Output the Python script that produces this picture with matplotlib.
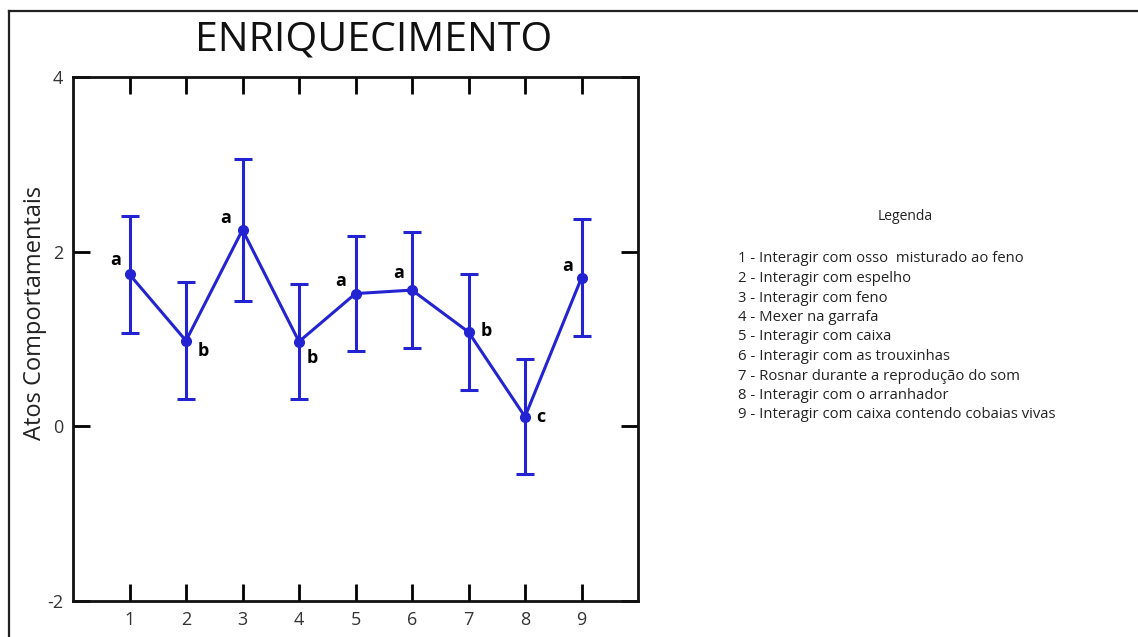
import matplotlib
matplotlib.use("Agg")
import matplotlib.pyplot as plt
from matplotlib.lines import Line2D

# Behaviour categories (x positions) and mean acts with error amplitude
categories = [1, 2, 3, 4, 5, 6, 7, 8, 9]
means = [1.74, 0.98, 2.25, 0.97, 1.52, 1.56, 1.08, 0.11, 1.70]
errors = [0.67, 0.67, 0.81, 0.66, 0.66, 0.66, 0.66, 0.66, 0.67]
letters = ["a", "b", "a", "b", "a", "a", "b", "c", "a"]
letter_offsets = [(-14, 14), (17, -10), (-17, 12), (13, -16), (-15, 13),
                  (-13, 17), (18, 1), (16, 0), (-14, 12)]
y_ticks = [-2, 0, 2, 4]
x_ticks = [1, 2, 3, 4, 5, 6, 7, 8, 9]

legend_title = "Legenda"
legend_lines = [
    "1 - Interagir com osso  misturado ao feno",
    "2 - Interagir com espelho",
    "3 - Interagir com feno",
    "4 - Mexer na garrafa",
    "5 - Interagir com caixa",
    "6 - Interagir com as trouxinhas",
    "7 - Rosnar durante a reprodução do som",
    "8 - Interagir com o arranhador",
    "9 - Interagir com caixa contendo cobaias vivas",
]

plt.rcParams["font.family"] = ["Open Sans", "DejaVu Sans"]
plt.rcParams["axes.unicode_minus"] = False

W, H = 1138, 637
fig = plt.figure(figsize=(W / 100, H / 100), dpi=100)
fig.patch.set_facecolor("white")

# Outer frame (left and top edges)
fig.add_artist(Line2D([9 / W, 9 / W], [0, 1 - 11 / H], transform=fig.transFigure,
                      color="#222222", lw=1.6))
fig.add_artist(Line2D([9 / W, 1], [1 - 11 / H, 1 - 11 / H], transform=fig.transFigure,
                      color="#222222", lw=1.6))

ax_l, ax_r, ax_t, ax_b = 73, 638, 77, 601
ax = fig.add_axes([ax_l / W, 1 - ax_b / H, (ax_r - ax_l) / W, (ax_b - ax_t) / H])

blue = "#2323d2"
ax.errorbar(categories, means, yerr=errors, color=blue, lw=2.2, marker="o",
            markersize=7, capsize=6.5, capthick=2.2, elinewidth=2.2, zorder=3)

for x, y, lab, off in zip(categories, means, letters, letter_offsets):
    ax.annotate(lab, (x, y), xytext=off, textcoords="offset pixels",
                ha="center", va="center", fontsize=13, fontweight="bold",
                color="black")

ax.set_xlim(0, 10)
ax.set_ylim(-2, 4)
ax.set_xticks(x_ticks)
ax.set_yticks(y_ticks)
ax.tick_params(direction="in", length=12, width=2, top=True, right=True,
               labelsize=13, labelcolor="#333333", pad=7)
for s in ax.spines.values():
    s.set_linewidth(2)
    s.set_color("#111111")

fig.text(35 / W, 1 - 313 / H, "Atos Comportamentais", rotation=90,
         ha="center", va="center", fontsize=17, color="#222222")
fig.text(374 / W, 1 - 40 / H, "ENRIQUECIMENTO", ha="center", va="center",
         fontsize=29.5, color="#111111")

fig.text(905 / W, 1 - 217 / H, legend_title, ha="center", va="center",
         fontsize=10, color="#222222")
for i, line in enumerate(legend_lines):
    fig.text(738 / W, 1 - (259 + 19.5 * i) / H, line, ha="left", va="center",
             fontsize=10.7, color="#222222")

fig.savefig("out.png", dpi=100, facecolor="white")
